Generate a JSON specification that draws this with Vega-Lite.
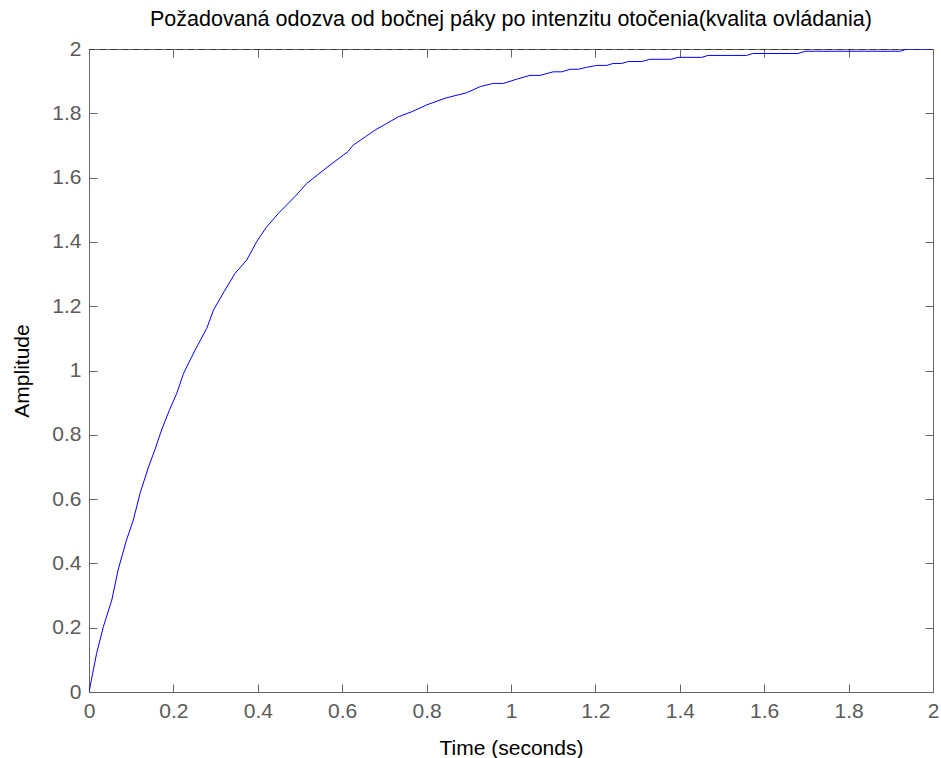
{
  "$schema": "https://vega.github.io/schema/vega-lite/v6.json",
  "width": 844,
  "height": 643,
  "autosize": {"type": "none"},
  "padding": {"left": 89, "top": 49, "right": 8, "bottom": 66},
  "background": "white",
  "title": {
    "text": "Požadovaná odozva od bočnej páky po intenzitu otočenia(kvalita ovládania)",
    "font": "Liberation Sans",
    "fontSize": 21.5,
    "fontWeight": "normal",
    "color": "#000000",
    "offset": 8
  },
  "config": {
    "view": {"stroke": "#666666", "strokeWidth": 1},
    "axis": {
      "grid": false,
      "domainColor": "#666666",
      "tickColor": "#666666",
      "tickSize": -8,
      "labelFlush": false,
      "labelFont": "Liberation Sans",
      "labelFontSize": 21,
      "labelColor": "#5a5a5a",
      "titleFont": "Liberation Sans",
      "titleFontSize": 21,
      "titleFontWeight": "normal",
      "titleColor": "#000000"
    }
  },
  "datasets": {
    "response": [
      {"t": 0, "v": 0},
      {"t": 0.018, "v": 0.12},
      {"t": 0.034, "v": 0.203},
      {"t": 0.054, "v": 0.286},
      {"t": 0.069, "v": 0.38},
      {"t": 0.089, "v": 0.473},
      {"t": 0.105, "v": 0.535},
      {"t": 0.121, "v": 0.618},
      {"t": 0.141, "v": 0.70},
      {"t": 0.156, "v": 0.753},
      {"t": 0.172, "v": 0.815},
      {"t": 0.19, "v": 0.875},
      {"t": 0.208, "v": 0.929},
      {"t": 0.224, "v": 0.991},
      {"t": 0.25, "v": 1.06},
      {"t": 0.279, "v": 1.131},
      {"t": 0.295, "v": 1.188},
      {"t": 0.32, "v": 1.245},
      {"t": 0.346, "v": 1.302},
      {"t": 0.374, "v": 1.344},
      {"t": 0.397, "v": 1.40},
      {"t": 0.42, "v": 1.445},
      {"t": 0.449, "v": 1.489},
      {"t": 0.488, "v": 1.541},
      {"t": 0.516, "v": 1.582},
      {"t": 0.545, "v": 1.612},
      {"t": 0.571, "v": 1.639},
      {"t": 0.614, "v": 1.681},
      {"t": 0.626, "v": 1.701},
      {"t": 0.655, "v": 1.727},
      {"t": 0.678, "v": 1.748},
      {"t": 0.705, "v": 1.768},
      {"t": 0.733, "v": 1.789},
      {"t": 0.765, "v": 1.805},
      {"t": 0.80, "v": 1.826},
      {"t": 0.844, "v": 1.847},
      {"t": 0.895, "v": 1.864},
      {"t": 0.927, "v": 1.883},
      {"t": 0.958, "v": 1.893},
      {"t": 0.982, "v": 1.893},
      {"t": 1.013, "v": 1.906},
      {"t": 1.045, "v": 1.918},
      {"t": 1.069, "v": 1.918},
      {"t": 1.10, "v": 1.929},
      {"t": 1.12, "v": 1.929},
      {"t": 1.14, "v": 1.937},
      {"t": 1.16, "v": 1.937},
      {"t": 1.179, "v": 1.943},
      {"t": 1.203, "v": 1.949},
      {"t": 1.227, "v": 1.949},
      {"t": 1.242, "v": 1.955},
      {"t": 1.262, "v": 1.955},
      {"t": 1.278, "v": 1.961},
      {"t": 1.31, "v": 1.961},
      {"t": 1.329, "v": 1.968},
      {"t": 1.379, "v": 1.968},
      {"t": 1.396, "v": 1.974},
      {"t": 1.452, "v": 1.974},
      {"t": 1.467, "v": 1.980},
      {"t": 1.558, "v": 1.980},
      {"t": 1.573, "v": 1.986},
      {"t": 1.68, "v": 1.986},
      {"t": 1.697, "v": 1.993},
      {"t": 1.922, "v": 1.993},
      {"t": 1.938, "v": 2.0},
      {"t": 2.0, "v": 2.0}
    ],
    "steady": [
      {"t": 0, "v": 2},
      {"t": 2, "v": 2}
    ]
  },
  "layer": [
    {
      "data": {"name": "steady"},
      "mark": {"type": "line", "color": "#000000", "strokeWidth": 1, "strokeDash": [6, 5], "clip": true},
      "encoding": {
        "x": {
          "field": "t", "type": "quantitative",
          "scale": {"domain": [0, 2], "nice": false, "zero": false},
          "axis": {"orient": "top", "labels": false, "title": null, "values": [0, 0.2, 0.4, 0.6, 0.8, 1, 1.2, 1.4, 1.6, 1.8, 2]}
        },
        "y": {
          "field": "v", "type": "quantitative",
          "scale": {"domain": [0, 2], "nice": false, "zero": false},
          "axis": {"orient": "right", "labels": false, "title": null, "values": [0, 0.2, 0.4, 0.6, 0.8, 1, 1.2, 1.4, 1.6, 1.8, 2]}
        }
      }
    },
    {
      "data": {"name": "response"},
      "mark": {"type": "line", "color": "#0000ff", "strokeWidth": 1, "clip": true},
      "encoding": {
        "x": {
          "field": "t", "type": "quantitative",
          "scale": {"domain": [0, 2], "nice": false, "zero": false},
          "axis": {"orient": "bottom", "title": "Time (seconds)", "format": "~g", "labelPadding": 16, "titlePadding": 16, "values": [0, 0.2, 0.4, 0.6, 0.8, 1, 1.2, 1.4, 1.6, 1.8, 2]}
        },
        "y": {
          "field": "v", "type": "quantitative",
          "scale": {"domain": [0, 2], "nice": false, "zero": false},
          "axis": {"orient": "left", "title": "Amplitude", "format": "~g", "labelPadding": 16, "titlePadding": 19, "values": [0, 0.2, 0.4, 0.6, 0.8, 1, 1.2, 1.4, 1.6, 1.8, 2]}
        }
      }
    }
  ],
  "resolve": {"axis": {"x": "independent", "y": "independent"}}
}
